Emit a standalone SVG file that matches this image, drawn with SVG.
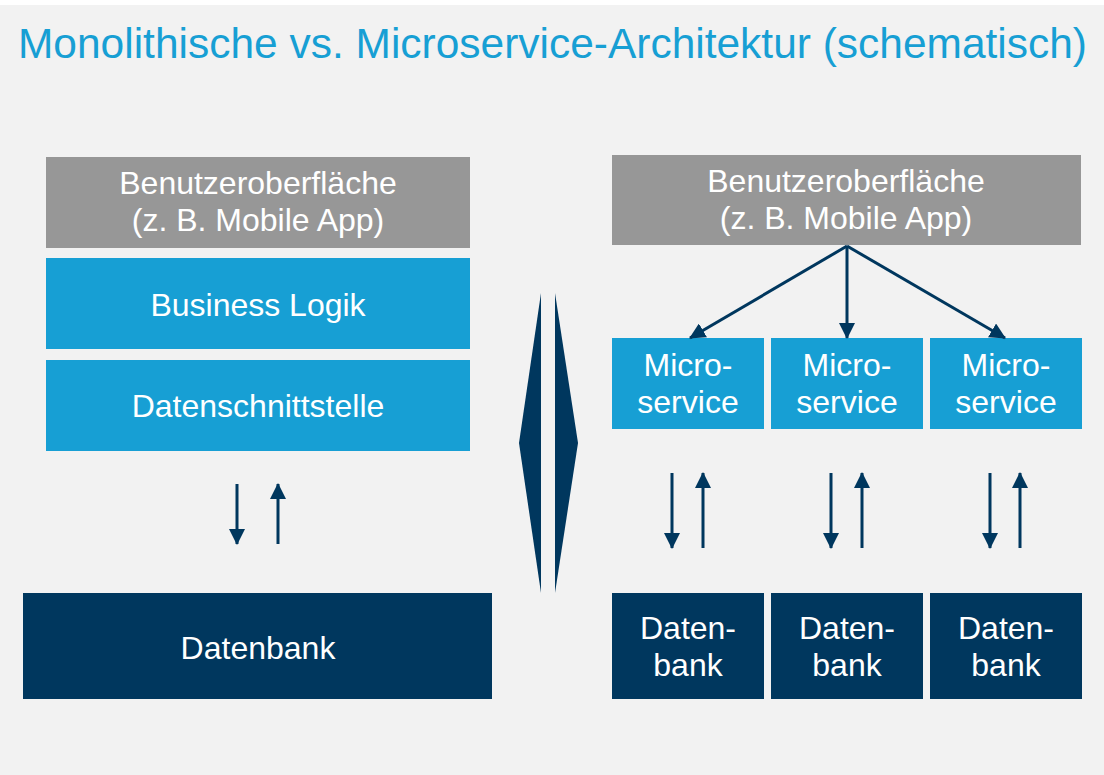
<svg xmlns="http://www.w3.org/2000/svg" width="1104" height="775" viewBox="0 0 1104 775">
<defs>
<style>
.t{font-family:"Liberation Sans",Arial,sans-serif;fill:#ffffff;font-size:32px;text-anchor:middle}
.gray{fill:#979797}
.blue{fill:#179fd4}
.navy{fill:#00375e}
.con{stroke:#00375e;stroke-width:3;fill:none}
</style>
<marker id="ah" markerUnits="userSpaceOnUse" markerWidth="16" markerHeight="16" viewBox="0 0 16 16" refX="15" refY="8" orient="auto">
<path d="M0,0 L16,8 L0,16 Z" fill="#00375e"/>
</marker>
</defs>
<rect x="0" y="0" width="1104" height="775" fill="#ffffff"/>
<rect x="0" y="5" width="1104" height="770" fill="#f2f2f2"/>
<text x="18" y="58" font-family="Liberation Sans, Arial, sans-serif" font-size="42.5" fill="#179fd4" textLength="1069" lengthAdjust="spacingAndGlyphs">Monolithische vs. Microservice-Architektur (schematisch)</text>

<g id="mono-ui"><rect class="gray" x="46" y="157" width="424" height="91"/><text class="t" x="258" y="194">Benutzeroberfläche</text><text class="t" x="258" y="231">(z. B. Mobile App)</text></g>
<g id="mono-logic"><rect class="blue" x="46" y="258" width="424" height="91"/><text class="t" x="258" y="316">Business Logik</text></g>
<g id="mono-api"><rect class="blue" x="46" y="360" width="424" height="91"/><text class="t" x="258" y="417">Datenschnittstelle</text></g>
<g id="mono-db"><rect class="navy" x="23" y="593" width="469" height="106"/><text class="t" x="258" y="659">Datenbank</text></g>

<g id="divider"><polygon class="navy" points="541,293 519,443 541,593"/><polygon class="navy" points="555,293 578,443 555,593"/></g>

<g id="ms-ui"><rect class="gray" x="612" y="155" width="469" height="90"/><text class="t" x="846" y="192">Benutzeroberfläche</text><text class="t" x="846" y="229">(z. B. Mobile App)</text></g>
<g id="ms1"><rect class="blue" x="612" y="338" width="152" height="91"/><text class="t" x="688" y="376">Micro-</text><text class="t" x="688" y="413">service</text></g>
<g id="ms2"><rect class="blue" x="771" y="338" width="152" height="91"/><text class="t" x="847" y="376">Micro-</text><text class="t" x="847" y="413">service</text></g>
<g id="ms3"><rect class="blue" x="930" y="338" width="152" height="91"/><text class="t" x="1006" y="376">Micro-</text><text class="t" x="1006" y="413">service</text></g>
<g id="db1"><rect class="navy" x="612" y="593" width="152" height="106"/><text class="t" x="688" y="639">Daten-</text><text class="t" x="688" y="676">bank</text></g>
<g id="db2"><rect class="navy" x="771" y="593" width="152" height="106"/><text class="t" x="847" y="639">Daten-</text><text class="t" x="847" y="676">bank</text></g>
<g id="db3"><rect class="navy" x="930" y="593" width="152" height="106"/><text class="t" x="1006" y="639">Daten-</text><text class="t" x="1006" y="676">bank</text></g>

<g id="connectors">
<line class="con" x1="847" y1="246" x2="690" y2="338" marker-end="url(#ah)"/>
<line class="con" x1="847" y1="246" x2="847" y2="338" marker-end="url(#ah)"/>
<line class="con" x1="847" y1="246" x2="1005" y2="338" marker-end="url(#ah)"/>
<line class="con" x1="237" y1="484" x2="237" y2="544" marker-end="url(#ah)"/>
<line class="con" x1="278" y1="544" x2="278" y2="484" marker-end="url(#ah)"/>
<line class="con" x1="672" y1="473" x2="672" y2="548" marker-end="url(#ah)"/>
<line class="con" x1="703" y1="548" x2="703" y2="473" marker-end="url(#ah)"/>
<line class="con" x1="831" y1="473" x2="831" y2="548" marker-end="url(#ah)"/>
<line class="con" x1="862" y1="548" x2="862" y2="473" marker-end="url(#ah)"/>
<line class="con" x1="990" y1="473" x2="990" y2="548" marker-end="url(#ah)"/>
<line class="con" x1="1020" y1="548" x2="1020" y2="473" marker-end="url(#ah)"/>
</g>
</svg>
